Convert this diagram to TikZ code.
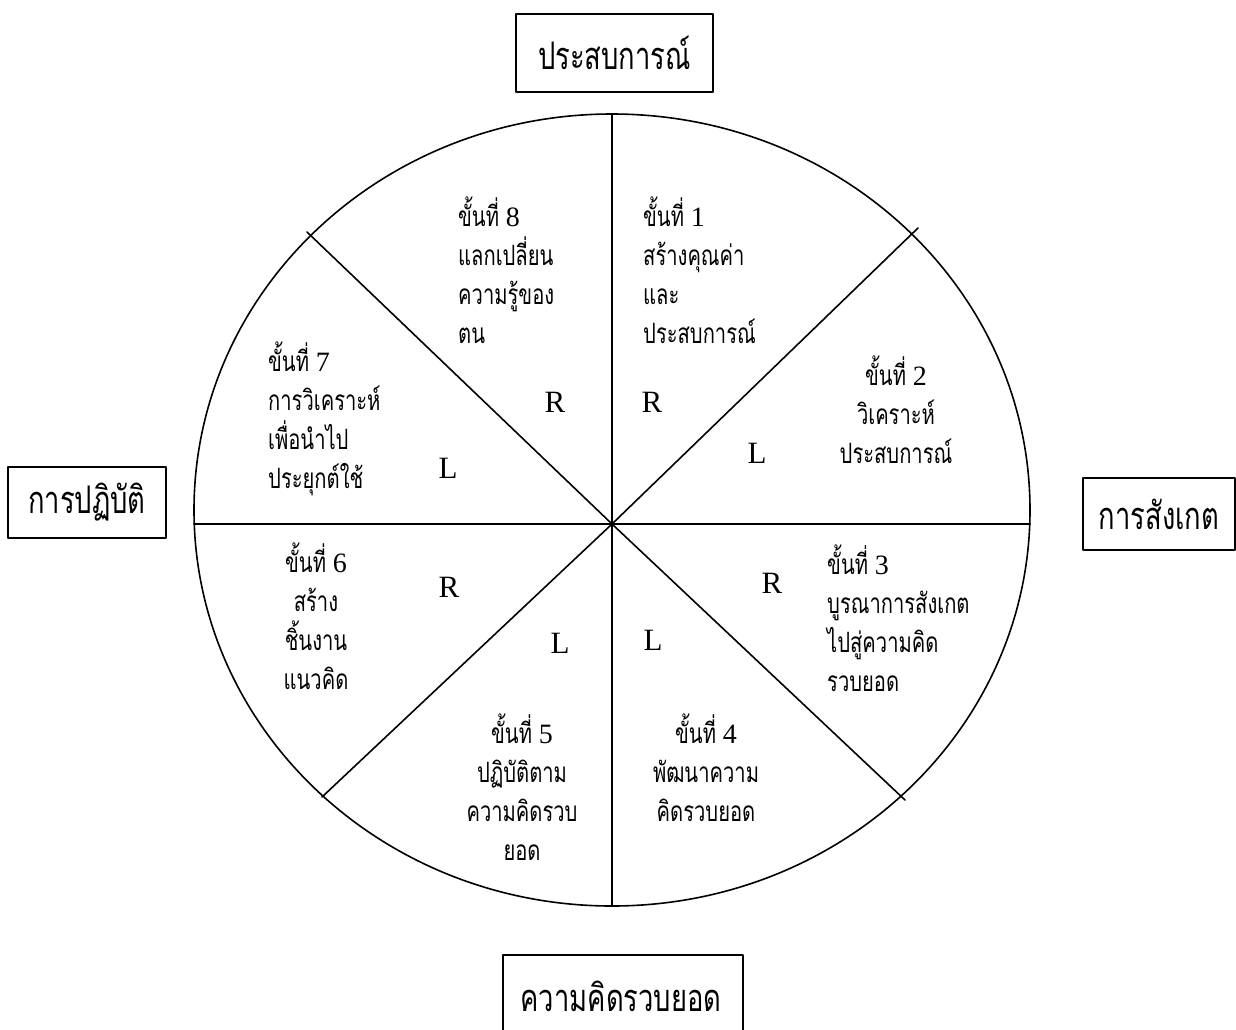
\documentclass[tikz,border=0pt]{standalone}
\usepackage{fontspec}
\setmainfont{Liberation Serif}
\newfontfamily\thaifont[Script=Thai,FakeStretch=0.72]{Loma}
\usetikzlibrary{positioning}
\newcommand{\stepno}[1]{ขั้นที่ {\rmfamily #1}}
\tikzset{
    every picture/.style={line cap=round,line join=round},
    wheel/.style={draw=black,line width=1.6pt},
    spoke/.style={draw=black,line width=1.6pt},
    sidebox/.style={draw=black,line width=1.6pt,inner sep=0pt,
      font=\thaifont\fontsize{38}{46}\selectfont},
    sidetext/.style={inner sep=0pt,font=\thaifont\fontsize{38}{46}\selectfont},
    stepnote/.style={inner sep=0pt,font=\thaifont\fontsize{28}{39}\selectfont},
    hemi/.style={inner sep=0pt,font=\fontsize{31}{34}\selectfont}
}

\begin{document}
\begin{tikzpicture}[x=1pt,y=-1pt]
  \useasboundingbox (0,0) rectangle (1236,1029);
  \clip (0,0) rectangle (1236,1029);
  % the wheel and its eight spokes
  \draw[wheel] (612,510) ellipse [x radius=418, y radius=396];
  \coordinate (hub) at (612,524);
  \coordinate (n) at (612,114);
  \coordinate (s) at (612,906);
  \coordinate (w) at (194,524);
  \coordinate (e) at (1030,524);
  \coordinate (ne) at (918,228);
  \coordinate (nw) at (307,232);
  \coordinate (sw) at (322,797);
  \coordinate (se) at (905,800);
  \foreach \tip in {n,s,w,e,ne,nw,sw,se}
    \draw[spoke] (hub) -- (\tip);

  % the four outer boxes
  \node[sidebox,minimum width=197,minimum height=78] (exper) at (614.5,53) {ประสบการณ์};
  \node[sidebox,minimum width=158,minimum height=71] (practice) at (87,502.5) {การปฏิบัติ};
  \node[sidebox,minimum width=152,minimum height=72] (observe) at (1159,514) {การสังเกต};
  % the bottom box runs off the page
  \node[sidetext] (concept) at (621,996) {ความคิดรวบยอด};
  \draw[wheel] (503,1040) |- (743,955) -- (743,1040);

  % the eight steps
  \node[stepnote,anchor=north west,align=left] (step1) at (643,197)
    {\stepno{1}\\สร้างคุณค่า\\และ\\ประสบการณ์};
  \node[stepnote,anchor=north,align=center] (step2) at (896,356)
    {\stepno{2}\\วิเคราะห์\\ประสบการณ์};
  \node[stepnote,anchor=north west,align=left] (step3) at (827,545)
    {\stepno{3}\\บูรณาการสังเกต\\ไปสู่ความคิด\\รวบยอด};
  \node[stepnote,anchor=north,align=center] (step4) at (706,714)
    {\stepno{4}\\พัฒนาความ\\คิดรวบยอด};
  \node[stepnote,anchor=north,align=center] (step5) at (522,714)
    {\stepno{5}\\ปฏิบัติตาม\\ความคิดรวบ\\ยอด};
  \node[stepnote,anchor=north,align=center] (step6) at (316,543)
    {\stepno{6}\\สร้าง\\ชิ้นงาน\\แนวคิด};
  \node[stepnote,anchor=north west,align=left] (step7) at (268,342)
    {\stepno{7}\\การวิเคราะห์\\เพื่อนำไป\\ประยุกต์ใช้};
  \node[stepnote,anchor=north west,align=left] (step8) at (458,197)
    {\stepno{8}\\แลกเปลี่ยน\\ความรู้ของ\\ตน};

  % right and left brain marks
  \node[hemi] (r8) at (555,402) {R};
  \node[hemi] (r1) at (652,402) {R};
  \node[hemi] (l2) at (757,453) {L};
  \node[hemi] (l7) at (448,468) {L};
  \node[hemi] (r6) at (449,587) {R};
  \node[hemi] (r3) at (772,583) {R};
  \node[hemi] (l5) at (560,643) {L};
  \node[hemi] (l4) at (653,640) {L};
\end{tikzpicture}
\end{document}
